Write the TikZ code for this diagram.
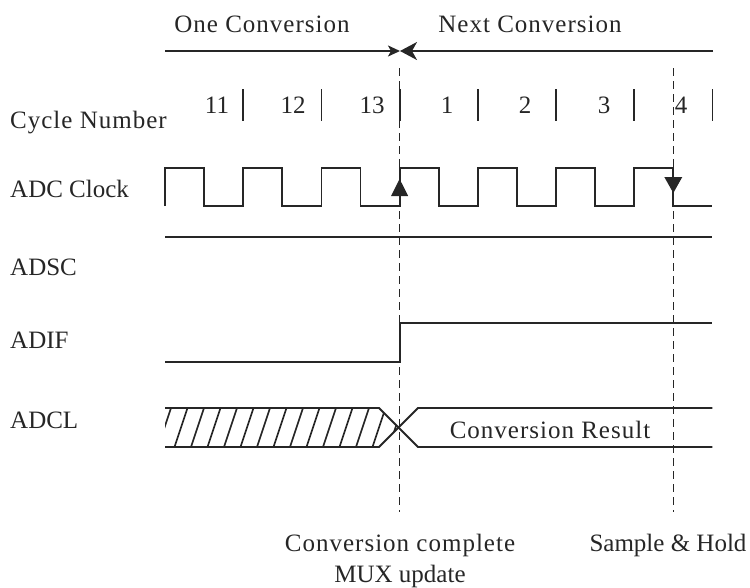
\documentclass[tikz,border=0pt]{standalone}
\usepackage{fontspec}
\setmainfont{Liberation Serif}
\usetikzlibrary{arrows.meta}
\begin{document}
\begin{tikzpicture}[x=1pt,y=-1pt,
  lbl/.style={font=\fontsize{25}{30}\selectfont, text=black!85, inner sep=0pt, anchor=base},
  wide/.style={font=\fontsize{25}{30}\selectfont\addfontfeature{LetterSpace=4}},
  sig/.style={line width=1.8pt, draw=black!85, line join=miter},
  guide/.style={line width=1pt, draw=black!85, dash pattern=on 8pt off 5pt},
  hatchline/.style={line width=1.6pt, draw=black!85},
  tipfill/.style={fill=black!85}]
\useasboundingbox (0,0) rectangle (750,587);
% titles
\node[lbl, wide] (t1) at (262,32) {One Conversion};
\node[lbl, wide] (t2) at (530,32) {Next Conversion};
% row labels
\node[lbl, wide, anchor=base west] (lc) at (10,128) {Cycle Number};
\node[lbl, anchor=base west] (lk) at (10,197) {ADC Clock};
\node[lbl, anchor=base west] (ls) at (10,275) {ADSC};
\node[lbl, anchor=base west] (lf) at (10,348) {ADIF};
\node[lbl, anchor=base west] (ll) at (10,428) {ADCL};
% guides
\coordinate (g1a) at (399.6,68); \coordinate (g1b) at (399.6,512);
\coordinate (g2a) at (673.3,68); \coordinate (g2b) at (673.3,512);
\draw[guide] (g1a) -- (g1b);
\draw[guide] (g2a) -- (g2b);
% top arrows
\coordinate (a0) at (165,51); \coordinate (am) at (400,51); \coordinate (a1) at (713,51);
\draw[sig, -{Stealth[length=12pt,width=11pt,inset=3pt]}] (a0) -- (am);
\draw[sig, -{Stealth[length=17pt,width=18pt,inset=5pt]}] (a1) -- (am);
% cycle numbers
\foreach \n/\x in {11/217,12/293,13/372,1/447,2/525,3/604,4/681}
  \node[lbl] (c\n) at (\x,113) {\n};
\foreach \x in {243.2,321.4,399.6,477.8,556,634.2,712.4}
  \draw[sig] (\x,89) -- (\x,121);
% clock
\draw[sig] (165,206) -- (165,168) -- (204.1,168) -- (204.1,206) -- (243.2,206) -- (243.2,168)
  -- (282.3,168) -- (282.3,206) -- (321.4,206) -- (321.4,168) -- (360.5,168) -- (360.5,206)
  -- (399.6,206) -- (399.6,168) -- (438.7,168) -- (438.7,206) -- (477.8,206) -- (477.8,168)
  -- (516.9,168) -- (516.9,206) -- (556,206) -- (556,168) -- (595.1,168) -- (595.1,206)
  -- (634.2,206) -- (634.2,168) -- (673.3,168) -- (673.3,206) -- (712.4,206);
\fill[tipfill] (399.6,179) -- (408.2,196) -- (391,196) -- cycle;
\fill[tipfill] (673.3,193) -- (682.3,177) -- (664.3,177) -- cycle;
% ADSC
\draw[sig] (165,237) -- (712.4,237);
% ADIF
\draw[sig] (165,362) -- (399.6,362) -- (399.6,323) -- (712.4,323);
% ADCL
\begin{scope}
  \clip (165,408) -- (379,408) -- (398.5,427.5) -- (379,447) -- (165,447) -- cycle;
  \foreach \i in {0,...,14}
    \draw[hatchline] ({158+\i*16.5},447) -- ({171+\i*16.5},408);
\end{scope}
\draw[sig] (165,408) -- (379,408) -- (418,447) -- (712.4,447);
\draw[sig] (165,447) -- (379,447) -- (418,408) -- (712.4,408);
\node[lbl, wide] (cr) at (550,438) {Conversion Result};
% bottom labels
\node[lbl, wide] (b1) at (400,551) {Conversion complete};
\node[lbl] (b2) at (400,582) {MUX update};
\node[lbl] (b3) at (668,551) {Sample \& Hold};
\end{tikzpicture}
\end{document}
